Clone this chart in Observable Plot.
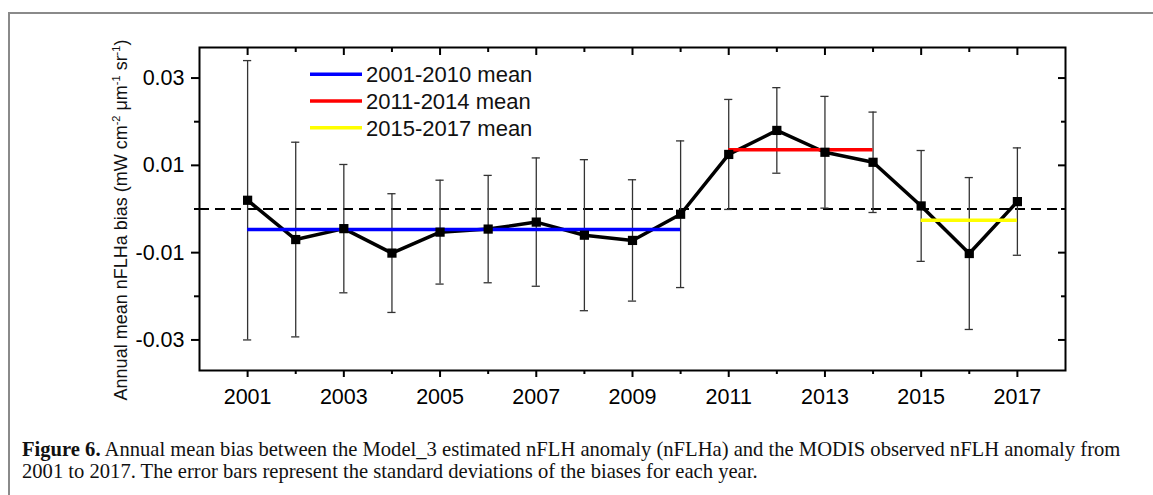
<!DOCTYPE html>
<html>
<head>
<meta charset="utf-8">
<script src="https://cdn.jsdelivr.net/npm/d3@7"></script>
<script src="https://cdn.jsdelivr.net/npm/@observablehq/plot@0.6"></script>
<style>
  html, body { margin: 0; padding: 0; background: #fff; }
  body { width: 1153px; height: 495px; overflow: hidden; position: relative; font-family: "Liberation Sans", Arial, sans-serif; }
  #border { position: absolute; left: 8px; top: 12px; width: 1200px; height: 600px; border-top: 2px solid #8a8a8a; border-left: 2px solid #8a8a8a; box-sizing: border-box; }
  #chart { position: absolute; left: 0; top: 0; }
  #caption { position: absolute; left: 22px; top: 438px; font-family: "Liberation Serif", "Times New Roman", serif; font-size: 20.6px; line-height: 22px; color: #111; white-space: nowrap; }
  #caption b { font-weight: bold; }
</style>
</head>
<body>
<div id="border"></div>
<div id="chart"></div>
<div id="caption"><b>Figure 6.</b> Annual mean bias between the Model_3 estimated nFLH anomaly (nFLHa) and the MODIS observed nFLH anomaly from<br>2001 to 2017. The error bars represent the standard deviations of the biases for each year.</div>
<script>
// ---- data ----
const years = [2001, 2002, 2003, 2004, 2005, 2006, 2007, 2008, 2009, 2010, 2011, 2012, 2013, 2014, 2015, 2016, 2017];
const bias  = [0.0020, -0.0070, -0.0045, -0.0101, -0.0053, -0.0046, -0.0030, -0.0060, -0.0072, -0.0012, 0.0125, 0.0180, 0.0130, 0.0107, 0.0007, -0.0102, 0.0017];
const stdev = [0.0320, 0.0223, 0.0147, 0.0136, 0.0119, 0.0123, 0.0147, 0.0173, 0.0139, 0.0168, 0.0126, 0.0098, 0.0128, 0.0115, 0.0127, 0.0174, 0.0123];

const periodLabels = ["2001-2010 mean", "2011-2014 mean", "2015-2017 mean"];
const periodStart  = [2001, 2011, 2015];
const periodEnd    = [2010, 2014, 2017];
const periodMean   = [-0.0047, 0.01355, -0.0026];
const periodColors = ["#0000ff", "#ff0000", "#ffff00"];

const xMajorTicks = [2001, 2003, 2005, 2007, 2009, 2011, 2013, 2015, 2017];
const xMinorTicks = [2002, 2004, 2006, 2008, 2010, 2012, 2014, 2016];
const yMajorTicks = [0.03, 0.01, -0.01, -0.03];
const yMinorTicks = [0.02, 0, -0.02];

// ---- tables ----
const rows = years.map((y, i) => ({year: y, bias: bias[i], sd: stdev[i]}));
const periods = periodLabels.map((l, i) => ({label: l, x1: periodStart[i], x2: periodEnd[i], mean: periodMean[i], color: periodColors[i]}));

const fmt = d => (d < 0 ? "-" : "") + Math.abs(d).toFixed(2);
const capHalf = 0.085;

const plot = Plot.plot({
  width: 1153,
  height: 420,
  marginLeft: 199,
  marginRight: 88,
  marginTop: 47,
  marginBottom: 50,
  style: {fontFamily: "Liberation Sans, Arial, sans-serif", fontSize: "21.5px", color: "#000", background: "transparent"},
  x: {domain: [2000, 2018]},
  y: {domain: [-0.037, 0.037]},
  marks: [
    Plot.ruleY([0], {stroke: "#000", strokeWidth: 2, strokeDasharray: "10,6"}),
    // error bars
    Plot.ruleX(rows, {x: "year", y1: d => d.bias - d.sd, y2: d => d.bias + d.sd, stroke: "#333", strokeWidth: 1.3}),
    Plot.ruleY(rows, {y: d => d.bias + d.sd, x1: d => d.year - capHalf, x2: d => d.year + capHalf, stroke: "#333", strokeWidth: 1.3}),
    Plot.ruleY(rows, {y: d => d.bias - d.sd, x1: d => d.year - capHalf, x2: d => d.year + capHalf, stroke: "#333", strokeWidth: 1.3}),
    // series line
    Plot.line(rows, {x: "year", y: "bias", stroke: "#000", strokeWidth: 3.5}),
    // period means
    Plot.ruleY(periods, {y: "mean", x1: "x1", x2: "x2", stroke: "color", strokeWidth: 3.5}),
    // markers
    Plot.dot(rows, {x: "year", y: "bias", symbol: "square", r: 5.2, fill: "#000", stroke: "none"}),
    // axes
    Plot.axisX({ticks: xMajorTicks, tickSize: 7, tickPadding: 11, tickFormat: d => String(d), fontSize: 21.5, strokeWidth: 2, label: null}),
    Plot.axisX({ticks: xMinorTicks, tickSize: 4, strokeWidth: 2, fill: "none", label: null}),
    Plot.axisX({anchor: "top", ticks: xMajorTicks, tickSize: 7, dy: 7, strokeWidth: 2, fill: "none", label: null}),
    Plot.axisX({anchor: "top", ticks: xMinorTicks, tickSize: 4, dy: 4, strokeWidth: 2, fill: "none", label: null}),
    Plot.axisY({ticks: yMajorTicks, tickSize: 8, tickPadding: 7, tickFormat: fmt, fontSize: 21.5, strokeWidth: 2, label: null}),
    Plot.axisY({ticks: yMinorTicks, tickSize: 5, strokeWidth: 2, fill: "none", label: null}),
    Plot.axisY({anchor: "right", ticks: yMajorTicks, tickSize: 8, dx: -8, strokeWidth: 2, fill: "none", label: null}),
    Plot.axisY({anchor: "right", ticks: yMinorTicks, tickSize: 5, dx: -5, strokeWidth: 2, fill: "none", label: null}),
    Plot.frame({stroke: "#000", strokeWidth: 2})
  ]
});

const svg = d3.select(plot);

// y-axis title with superscripts
const yt = svg.append("text")
  .attr("transform", "translate(127,220) rotate(-90)")
  .attr("text-anchor", "middle")
  .style("text-anchor", "middle")
  .style("font-family", "Liberation Sans, Arial, sans-serif")
  .style("font-size", "18px")
  .attr("fill", "#111");
const parts = [["Annual mean nFLHa bias (mW cm", 0], ["-2", 1], [" \u03bcm", 0], ["-1", 1], [" sr", 0], ["-1", 1], [")", 0]];
let prevSup = 0;
parts.forEach(([t, sup]) => {
  const ts = yt.append("tspan").text(t);
  if (sup !== prevSup) ts.attr("dy", sup ? -7 : 7);
  if (sup) ts.style("font-size", "11px");
  prevSup = sup;
});

// legend
const lg = svg.append("g").style("font-family", "Liberation Sans, Arial, sans-serif").style("font-size", "22px");
const legendY = [74.3, 101, 127.7];
periods.forEach((p, i) => {
  lg.append("line").attr("x1", 310).attr("x2", 362).attr("y1", legendY[i]).attr("y2", legendY[i])
    .attr("stroke", p.color).attr("stroke-width", 3.5);
  lg.append("text").attr("x", 366).attr("y", legendY[i]).attr("dy", "0.36em")
    .attr("text-anchor", "start").style("text-anchor", "start")
    .attr("fill", "#111").text(p.label);
});

document.getElementById("chart").appendChild(plot);
</script>
</body>
</html>
